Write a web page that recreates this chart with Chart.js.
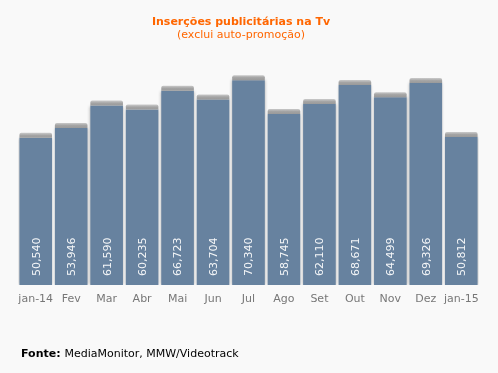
<!DOCTYPE html>
<html lang="pt">
<head>
    <meta charset="UTF-8">
    <title>Inserções publicitárias na Tv</title>
    <script src="https://cdn.jsdelivr.net/npm/chart.js"></script>
    <style>
        html, body { margin: 0; padding: 0; background: #f9f9f9; }
        #wrap { width: 498px; height: 373px; }
    </style>
</head>
<body>
    <div id="wrap"><canvas id="insercoes"></canvas></div>
    <script>
        // data
        const months = ['jan-14', 'Fev', 'Mar', 'Abr', 'Mai', 'Jun', 'Jul', 'Ago', 'Set', 'Out', 'Nov', 'Dez', 'jan-15'];
        const insercoes = [50540, 53946, 61590, 60235, 66723, 63704, 70340, 58745, 62110, 68671, 64499, 69326, 50812];
        const titleText = 'Inserções publicitárias na Tv';
        const subtitleText = '(exclui auto-promoção)';

        const FONT = '"DejaVu Sans", Verdana, sans-serif';

        // faint glow round the bars
        const barShadow = {
            id: 'barShadow',
            beforeDatasetDraw(chart) {
                const ctx = chart.ctx;
                ctx.save();
                ctx.shadowColor = 'rgba(0,0,0,0.3)';
                ctx.shadowBlur = 3;
            },
            afterDatasetDraw(chart) {
                chart.ctx.restore();
            }
        };

        // gray cap on each bar, vertical value labels, title and source line
        const texts = {
            id: 'texts',
            afterDatasetsDraw(chart) {
                const ctx = chart.ctx;
                const meta = chart.getDatasetMeta(0);
                ctx.save();
                meta.data.forEach(bar => {
                    const x0 = bar.x - bar.width / 2;
                    const g = ctx.createLinearGradient(0, bar.y - 5, 0, bar.y);
                    g.addColorStop(0, 'rgba(170,170,170,0.6)');
                    g.addColorStop(0.5, '#a4a4a4');
                    g.addColorStop(1, '#9a9a9a');
                    ctx.fillStyle = g;
                    ctx.beginPath();
                    ctx.roundRect(x0, bar.y - 5, bar.width, 5, [2, 2, 0, 0]);
                    ctx.fill();
                });

                ctx.fillStyle = '#f4f6f8';
                ctx.font = '11px ' + FONT;
                ctx.textAlign = 'left';
                ctx.textBaseline = 'middle';
                meta.data.forEach((bar, i) => {
                    ctx.save();
                    ctx.translate(bar.x + 1, chart.chartArea.bottom - 9);
                    ctx.rotate(-Math.PI / 2);
                    ctx.fillText(insercoes[i].toLocaleString('en-US'), 0, 0);
                    ctx.restore();
                });

                ctx.textAlign = 'center';
                ctx.fillStyle = '#ff6600';
                ctx.font = 'bold 11px ' + FONT;
                ctx.fillText(titleText, 241, 22);
                ctx.font = '11px ' + FONT;
                ctx.fillText(subtitleText, 241, 35);

                ctx.textAlign = 'left';
                ctx.fillStyle = '#000';
                ctx.font = 'bold 11px ' + FONT;
                ctx.fillText('Fonte:', 21, 354);
                const w = ctx.measureText('Fonte: ').width;
                ctx.font = '11px ' + FONT;
                ctx.fillText('MediaMonitor, MMW/Videotrack', 21 + w, 354);
                ctx.restore();
            }
        };

        new Chart(document.getElementById('insercoes'), {
            type: 'bar',
            data: {
                labels: months,
                datasets: [{
                    data: insercoes,
                    backgroundColor: '#67829f',
                    borderWidth: 0,
                    barPercentage: 0.92,
                    categoryPercentage: 1
                }]
            },
            options: {
                responsive: true,
                maintainAspectRatio: false,
                animation: false,
                layout: { padding: { left: 18, right: 19, top: 52, bottom: 0 } },
                plugins: {
                    legend: { display: false },
                    tooltip: { enabled: false }
                },
                scales: {
                    x: {
                        grid: { display: false, drawTicks: false },
                        border: { display: false },
                        ticks: { color: '#777', padding: 8, font: { family: FONT, size: 11 }, maxRotation: 0, autoSkip: false },
                        afterFit(scale) { scale.height = 88; }
                    },
                    y: {
                        display: false,
                        min: 0,
                        max: 80000
                    }
                }
            },
            plugins: [barShadow, texts]
        });
    </script>
</body>
</html>
